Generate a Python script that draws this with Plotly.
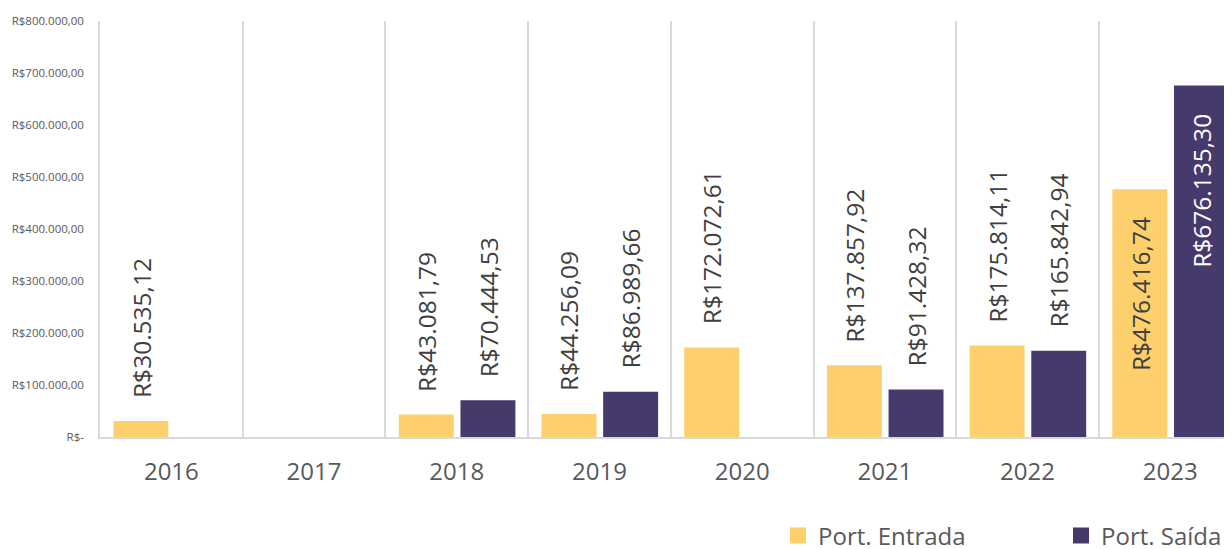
import plotly.graph_objects as go

# ---- data ----
years = ["2016", "2017", "2018", "2019", "2020", "2021", "2022", "2023"]
entrada = [30535.12, None, 43081.79, 44256.09, 172072.61, 137857.92, 175814.11, 476416.74]
saida = [None, None, 70444.53, 86989.66, None, 91428.32, 165842.94, 676135.30]
y_ticks = [0, 100000, 200000, 300000, 400000, 500000, 600000, 700000, 800000]
series_names = ["Port. Entrada", "Port. Saída"]

# ---- style ----
YEL = "#FDD06D"
PUR = "#463A6C"
GRID = "#D9D9D9"
TXT = "#595959"
LBL = "#404040"
FONT = "Open Sans"
INSIDE_THRESHOLD = 400000


def brl(v):
    s = f"{v:,.2f}".replace(",", "X").replace(".", ",").replace("X", ".")
    return "R$" + s


def brl_tick(v):
    return "R$-" if v == 0 else brl(v)


xpos = list(range(len(years)))
W = 0.385
offsets = [-0.406, 0.026]
colors = [YEL, PUR]
inside_text_colors = [LBL, "#FFFFFF"]

fig = go.Figure()
annotations = []
for s_idx, (vals, name) in enumerate(zip([entrada, saida], series_names)):
    fig.add_trace(go.Bar(
        x=xpos, y=vals, width=W, offset=offsets[s_idx],
        marker=dict(color=colors[s_idx], line=dict(width=0)),
        name=name, showlegend=False,
    ))
    for i, v in enumerate(vals):
        if v is None:
            continue
        cx = xpos[i] + offsets[s_idx] + W / 2
        inside = v > INSIDE_THRESHOLD
        annotations.append(dict(
            x=cx, y=v, xref="x", yref="y", text=brl(v), showarrow=False,
            textangle=-90,
            yanchor="top" if inside else "bottom",
            xanchor="center",
            yshift=-26 if inside else 21,
            font=dict(family=FONT, size=24.5,
                      color=inside_text_colors[s_idx] if inside else LBL),
        ))
    # legend proxy with larger square symbol
    fig.add_trace(go.Scatter(
        x=[None], y=[None], mode="markers", name=name,
        marker=dict(symbol="square", size=16, color=colors[s_idx]),
        showlegend=True,
    ))

# page body has an 8px margin; the figure is sized to fill the window after it
FIG_W, FIG_H = 1224, 541
M_L, M_T, M_B = 92, 13, 112
plot_w = FIG_W - M_L
plot_h = FIG_H - M_T - M_B
cat_px = 142.7

fig.update_layout(
    width=FIG_W, height=FIG_H,
    margin=dict(l=M_L, r=0, t=M_T, b=M_B, pad=0, autoexpand=False),
    plot_bgcolor="white", paper_bgcolor="white",
    annotations=annotations,
    showlegend=True,
    legend=dict(
        orientation="h", x=(770 - M_L) / plot_w, xanchor="left",
        y=(FIG_H - M_B - 528) / plot_h, yanchor="middle",
        font=dict(family=FONT, size=24, color=TXT),
        entrywidth=238, entrywidthmode="pixels",
        bgcolor="rgba(0,0,0,0)",
    ),
    xaxis=dict(
        range=[-0.5, -0.5 + plot_w / cat_px],
        tickmode="array", tickvals=xpos, ticktext=years,
        showgrid=False, zeroline=False, automargin=False,
        showline=True, linecolor=GRID, linewidth=1.5,
        ticks="", ticklabelstandoff=12,
        tickfont=dict(family=FONT, size=24, color=TXT),
        minor=dict(tickmode="array", tickvals=[i + 0.5 for i in xpos],
                   showgrid=True, gridcolor=GRID, gridwidth=1.5, ticks=""),
    ),
    yaxis=dict(
        range=[0, 800000],
        tickmode="array", tickvals=y_ticks,
        ticktext=[brl_tick(v) for v in y_ticks],
        showgrid=False, zeroline=False, automargin=False,
        showline=True, linecolor=GRID, linewidth=1.5,
        ticks="", ticklabelstandoff=12,
        tickfont=dict(family=FONT, size=11.5, color=TXT),
    ),
)

fig.write_html("out.html")
